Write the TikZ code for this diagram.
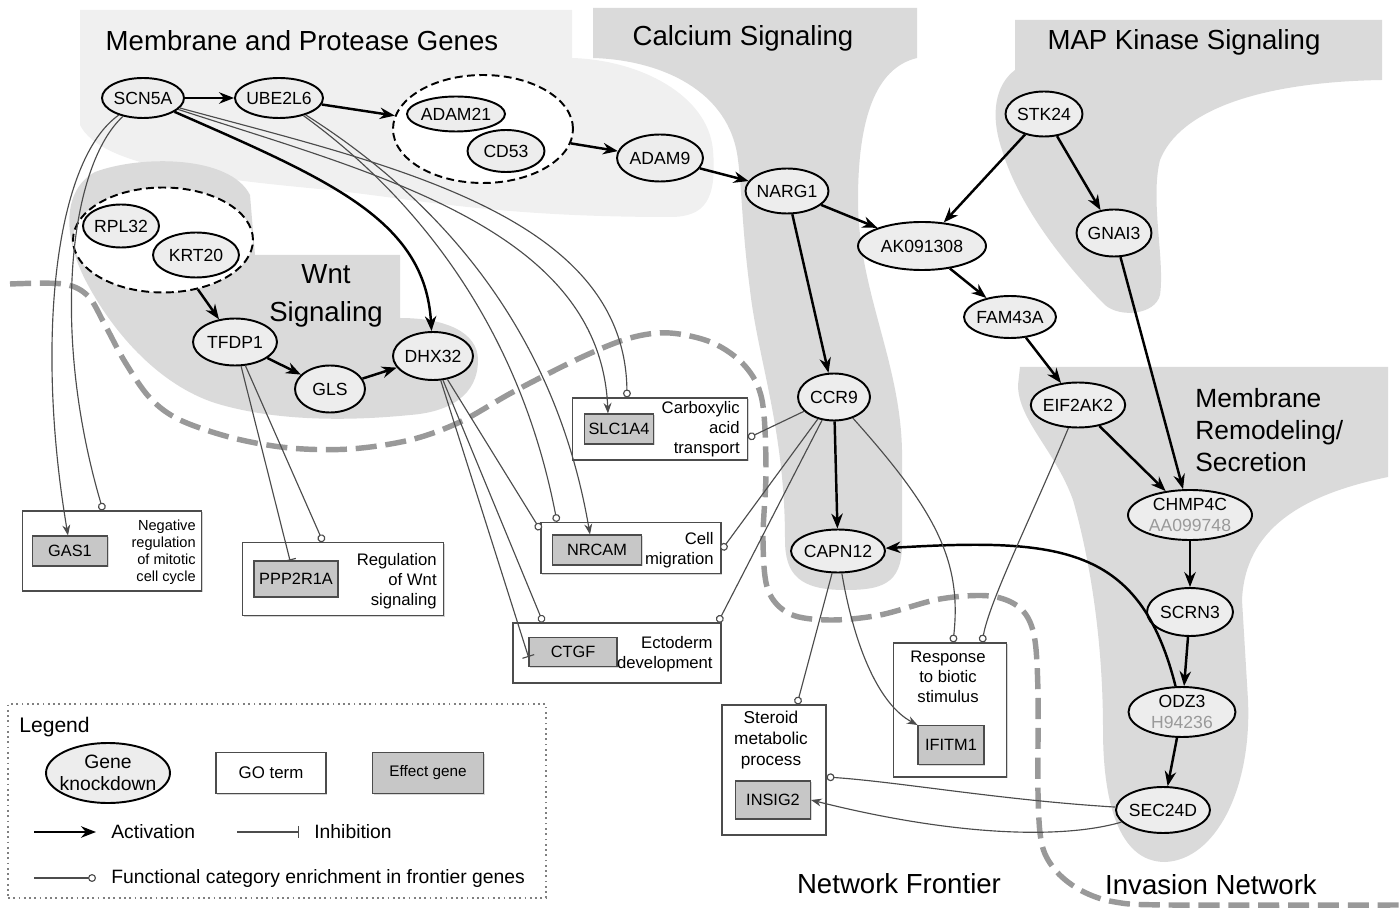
\documentclass[tikz,border=0pt]{standalone}
\usepackage{fontspec}
\setmainfont{Liberation Sans}
\usepackage{xcolor}
\usepackage{tikz}
\usetikzlibrary{arrows.meta,shapes.geometric,shadows}

\definecolor{lightreg}{gray}{0.94}
\definecolor{midreg}{gray}{0.855}
\definecolor{genefill}{gray}{0.93}
\definecolor{effectfill}{gray}{0.78}
\definecolor{frontline}{gray}{0.6}
\definecolor{relline}{gray}{0.3}
\definecolor{subid}{gray}{0.6}

\begin{document}
\begin{tikzpicture}[
  x=0.02cm, y=-0.02cm,
  >=Stealth,
  gene/.style={ellipse, draw, line width=1.1pt, fill=genefill, inner sep=-1pt,
               minimum width=1.7cm, minimum height=0.9cm, align=center,
               font=\fontsize{10}{12}\selectfont},
  cluster/.style={ellipse, draw, dash pattern=on 4.5pt off 2.5pt, line width=1.1pt, fill=white,
                  minimum width=3.6cm, minimum height=2.16cm},
  goterm/.style={rectangle, draw=black!70, line width=0.7pt, fill=white, inner sep=0pt,
                 drop shadow={shadow xshift=0.8pt, shadow yshift=-0.8pt, opacity=0.35}},
  gotext/.style={align=right, inner sep=0pt, font=\fontsize{9.5}{11.3}\selectfont},
  effect/.style={rectangle, draw=black!70, line width=0.6pt, fill=effectfill, inner sep=0pt,
                 minimum height=0.6cm, font=\fontsize{9.3}{11}\selectfont,
                 drop shadow={shadow xshift=0.6pt, shadow yshift=-0.6pt, opacity=0.3}},
  regionlabel/.style={inner sep=0pt, font=\fontsize{15.7}{18.5}\selectfont},
  act/.style={-{Stealth[length=8.5pt, width=6.5pt]}, line width=1.4pt},
  rel/.style={-{Stealth[length=6pt, width=4.5pt]}, line width=0.65pt, relline},
  inh/.style={-{Bar[width=7pt]}, line width=0.65pt, relline},
  enr/.style={-{Circle[length=4.5pt, fill=white]}, line width=0.65pt, relline},
  frontier/.style={line width=3.1pt, frontline, dash pattern=on 12pt off 5pt},
]
\useasboundingbox (0,0) rectangle (1399,908);

% Pathway regions (background)
\fill[lightreg] (80,10) -- (572,10) -- (572,58) .. controls (640,60) and (708,95) .. (713,150)
  .. controls (717,200) and (705,217) .. (670,217) .. controls (500,217) and (420,200) .. (330,190)
  .. controls (200,178) and (100,165) .. (80,125) -- cycle;
\fill[midreg] (593,8) -- (917,8) -- (917,58) .. controls (875,68) and (858,120) .. (858,200)
  .. controls (858,290) and (900,360) .. (902,450) -- (902,545) .. controls (902,585) and (880,590) .. (845,590)
  .. controls (800,590) and (785,575) .. (785,540) .. controls (785,430) and (758,360) .. (750,290)
  .. controls (742,230) and (742,190) .. (738,160) .. controls (730,90) and (660,60) .. (593,58) -- cycle;
\fill[midreg] (1015,20) -- (1382,20) -- (1382,80) .. controls (1260,82) and (1180,110) .. (1160,160)
  .. controls (1150,200) and (1165,260) .. (1160,295) .. controls (1155,315) and (1120,318) .. (1105,305)
  .. controls (1070,270) and (1020,210) .. (1002,150) .. controls (990,115) and (995,85) .. (1015,70) -- cycle;
\fill[midreg] (255,255) -- (400,255) -- (400,318) .. controls (445,318) and (478,332) .. (478,360)
  .. controls (478,395) and (450,412) .. (410,415) .. controls (340,422) and (270,420) .. (215,403)
  .. controls (160,385) and (115,335) .. (88,285) .. controls (62,238) and (62,190) .. (95,172)
  .. controls (140,155) and (230,155) .. (250,195) -- cycle;
\fill[midreg] (1020,367) -- (1388,367) -- (1388,477) .. controls (1300,495) and (1245,530) .. (1242,600)
  -- (1248,700) .. controls (1252,790) and (1215,860) .. (1165,862) .. controls (1118,862) and (1103,800) .. (1103,730)
  .. controls (1103,640) and (1090,560) .. (1073,500) .. controls (1055,450) and (1018,420) .. (1018,385) -- cycle;

% Region titles
\node[regionlabel] (tMem) at (302,41) {Membrane and Protease Genes};
\node[regionlabel] (tCal) at (743,38) {Calcium Signaling};
\node[regionlabel] (tMap) at (1184,42) {MAP Kinase Signaling};
\node[regionlabel, align=center, font=\fontsize{15.7}{22}\selectfont] (tWnt) at (326,296) {Wnt\\Signaling};
\node[regionlabel, align=left, anchor=west, font=\fontsize{15}{18.4}\selectfont] (tRem) at (1195,430)
  {Membrane\\Remodeling/\\Secretion};
\node[regionlabel] (tFront) at (899,884) {Network Frontier};

% Network frontier boundary
\draw[frontier] plot[smooth, tension=0.55] coordinates {
  (10,284) (63,284) (88,296) (105,325) (125,362) (150,398) (180,420) (233,438) (290,448)
  (350,449) (410,440) (460,422) (513,392) (580,358) (630,338) (670,333) (713,343) (745,366)
  (762,400) (766,470) (763,540) (768,590) (790,614) (830,620) (880,615) (940,599) (990,596)
  (1020,608) (1034,635) (1038,693) (1038,793) (1042,845) (1057,872) (1082,891) (1115,902)
  (1170,905) (1399,905)};
\node[regionlabel] (tInv) at (1211,885) {Invasion Network};

% Knockdown genes
\node[gene, minimum width=1.64cm, minimum height=0.8cm] (SCN5A) at (143,98) {SCN5A};
\node[gene, minimum width=1.76cm, minimum height=0.8cm] (UBE2L6) at (279,98) {UBE2L6};
\node[cluster] (clA) at (483,129) {};
\node[gene, minimum width=1.96cm, minimum height=0.7cm] (ADAM21) at (456,114) {ADAM21};
\node[gene, minimum width=1.54cm, minimum height=0.84cm] (CD53) at (506,151) {CD53};
\node[gene, minimum width=1.72cm, minimum height=0.94cm] (ADAM9) at (660,158) {ADAM9};
\node[gene, minimum width=1.66cm] (NARG1) at (787,191) {NARG1};
\node[gene, minimum width=2.56cm, minimum height=0.96cm] (AK091308) at (922,246) {AK091308};
\node[gene, minimum width=1.54cm] (STK24) at (1044,114) {STK24};
\node[gene, minimum width=1.5cm, minimum height=0.94cm] (GNAI3) at (1114,233) {GNAI3};
\node[gene, minimum width=1.84cm, minimum height=0.84cm] (FAM43A) at (1010,317) {FAM43A};
\node[gene, minimum width=1.86cm] (EIF2AK2) at (1078,405) {EIF2AK2};
\node[gene, minimum width=2.48cm, minimum height=1cm] (CHMP4C) at (1190,515) {CHMP4C\\\textcolor{subid}{AA099748}};
\node[gene, minimum width=1.72cm, minimum height=0.96cm] (SCRN3) at (1190,612) {SCRN3};
\node[gene, minimum width=2.14cm, minimum height=1cm] (ODZ3) at (1182,712) {ODZ3\\\textcolor{subid}{H94236}};
\node[gene, minimum width=1.88cm, minimum height=0.92cm] (SEC24D) at (1163,810) {SEC24D};
\node[gene, minimum width=1.44cm, minimum height=0.94cm] (CCR9) at (834,397) {CCR9};
\node[gene, minimum width=1.88cm, minimum height=0.86cm] (CAPN12) at (838,551) {CAPN12};
\node[gene, minimum width=1.6cm, minimum height=0.96cm] (DHX32) at (433,356) {DHX32};
\node[gene, minimum width=1.4cm, minimum height=0.94cm] (GLS) at (330,389) {GLS};
\node[gene, minimum width=1.68cm, minimum height=0.94cm] (TFDP1) at (235,342) {TFDP1};
\node[cluster, minimum height=2.1cm] (clB) at (163,240) {};
\node[gene, minimum width=1.52cm, minimum height=0.86cm] (RPL32) at (121,226) {RPL32};
\node[gene, minimum width=1.72cm] (KRT20) at (196,255) {KRT20};

% GO terms with their effect genes
\node[goterm, minimum width=3.58cm, minimum height=1.6cm] (negreg) at (112,551) {};
\node[effect, minimum width=1.5cm] (GAS1) at (70,551) {GAS1};
\node[gotext, anchor=east, font=\fontsize{8.3}{9.7}\selectfont] (negregtxt) at (196,552)
  {Negative\\regulation\\of mitotic\\cell cycle};

\node[goterm, minimum width=4.02cm, minimum height=1.46cm] (wntreg) at (343,579) {};
\node[effect, minimum width=1.68cm, minimum height=0.72cm] (PPP2R1A) at (296,579) {PPP2R1A};
\node[gotext, anchor=east] (wntregtxt) at (437,581) {Regulation\\of Wnt\\signaling};

\node[goterm, minimum width=3.5cm, minimum height=1.24cm] (carbox) at (660,429) {};
\node[effect, minimum width=1.38cm] (SLC1A4) at (619,429) {SLC1A4};
\node[gotext, anchor=east] (carboxtxt) at (740,429) {Carboxylic\\acid\\transport};

\node[goterm, minimum width=3.6cm, minimum height=1.02cm] (cellmig) at (631,548) {};
\node[effect, minimum width=1.78cm] (NRCAM) at (597,550) {NRCAM};
\node[gotext, anchor=east] (cellmigtxt) at (714,550) {Cell\\migration};

\node[goterm, minimum width=4.16cm, minimum height=1.2cm] (ectoderm) at (617,653) {};
\node[effect, minimum width=1.76cm, minimum height=0.58cm] (CTGF) at (573,652) {CTGF};
\node[gotext, anchor=east] (ectodermtxt) at (713,654) {Ectoderm\\development};

\node[goterm, minimum width=2.08cm, minimum height=2.6cm] (steroid) at (774,770) {};
\node[gotext, align=center, font=\fontsize{9.8}{12.2}\selectfont] (steroidtxt) at (771,740)
  {Steroid\\metabolic\\process};
\node[effect, minimum width=1.5cm, minimum height=0.76cm] (INSIG2) at (773,800) {INSIG2};

\node[goterm, minimum width=2.26cm, minimum height=2.68cm] (response) at (950,710) {};
\node[gotext, align=center] (responsetxt) at (948,677) {Response\\to biotic\\stimulus};
\node[effect, minimum width=1.32cm, minimum height=0.78cm] (IFITM1) at (951,745) {IFITM1};

% Activation between knockdown genes
\foreach \a/\b in {SCN5A/UBE2L6, UBE2L6/clA, clA/ADAM9, ADAM9/NARG1, NARG1/AK091308, NARG1/CCR9,
    CCR9/CAPN12, STK24/AK091308, STK24/GNAI3, AK091308/FAM43A, FAM43A/EIF2AK2, EIF2AK2/CHMP4C,
    GNAI3/CHMP4C, CHMP4C/SCRN3, SCRN3/ODZ3, ODZ3/SEC24D, clB/TFDP1, TFDP1/GLS, GLS/DHX32}
  {\draw[act] (\a) -- (\b);}
\draw[act] (SCN5A) .. controls (330,180) and (425,220) .. (DHX32);
\draw[act] (ODZ3) .. controls (1140,545) and (1060,538) .. (CAPN12);

% Effect genes and enriched GO terms
\draw[rel] (SCN5A) .. controls (55,160) and (35,340) .. (68,0 |- GAS1.north);
\draw[enr] (SCN5A) .. controls (70,165) and (50,330) .. (103,0 |- negreg.north);
\draw[rel] (SCN5A) .. controls (380,175) and (600,230) .. (608,0 |- SLC1A4.north);
\draw[enr] (SCN5A) .. controls (390,165) and (625,215) .. (627,0 |- carbox.north);
\draw[enr] (UBE2L6) .. controls (420,200) and (520,330) .. (557,0 |- cellmig.north);
\draw[rel] (UBE2L6) .. controls (440,200) and (555,330) .. (590,0 |- NRCAM.north);
\draw[enr] (DHX32) -- (cellmig.west |- 0,530);
\draw[enr] (DHX32) -- (543,0 |- ectoderm.north);
\draw[inh] (DHX32) -- (CTGF.west |- 0,657);
\draw[inh] (TFDP1) -- (290,0 |- PPP2R1A.north);
\draw[enr] (TFDP1) -- (323,0 |- wntreg.north);
\draw[enr] (CCR9) -- (carbox.east |- 0,438);
\draw[enr] (CCR9) -- (cellmig.east |- 0,550);
\draw[enr] (CCR9) -- (718,0 |- ectoderm.north);
\draw[enr] (CCR9) .. controls (935,510) and (962,560) .. (953,0 |- response.north);
\draw[enr] (EIF2AK2) .. controls (1030,520) and (990,600) .. (982,0 |- response.north);
\draw[enr] (CAPN12) -- (797,0 |- steroid.north);
\draw[rel] (CAPN12) .. controls (855,650) and (880,705) .. (IFITM1.north west);
\draw[enr] (SEC24D) .. controls (1000,800) and (900,782) .. (steroid.east |- 0,777);
\draw[rel] (SEC24D) .. controls (1060,840) and (950,835) .. (INSIG2.east);

% Legend
\node[draw=gray, line width=0.8pt, dash pattern=on 1pt off 2pt, minimum width=10.76cm,
      minimum height=3.88cm] (legend) at (277,801) {};
\node[anchor=west, inner sep=0pt, font=\fontsize{12}{14}\selectfont] (legtitle) at (19,727) {Legend};
\node[gene, minimum width=2.48cm, minimum height=1.2cm,
      label={[align=center, font=\fontsize{11}{12.5}\selectfont]center:Gene\\knockdown}] (legGene) at (108,773) {};
\node[goterm, minimum width=2.2cm, minimum height=0.82cm, font=\fontsize{9.6}{11}\selectfont] (legGO) at (271,773) {GO term};
\node[effect, minimum width=2.22cm, minimum height=0.82cm, font=\fontsize{8.7}{10}\selectfont] (legEff) at (428,773) {Effect gene};
\coordinate (actA) at (34,832);  \coordinate (actB) at (96,832);
\coordinate (inhA) at (237,832); \coordinate (inhB) at (299,832);
\coordinate (enrA) at (34,878);  \coordinate (enrB) at (96,878);
\draw[act] (actA) -- (actB);
\draw[inh] (inhA) -- (inhB);
\draw[enr] (enrA) -- (enrB);
\node[anchor=west, inner sep=0pt, font=\fontsize{11}{13}\selectfont] (legAct) at (111,832) {Activation};
\node[anchor=west, inner sep=0pt, font=\fontsize{11}{13}\selectfont] (legInh) at (314,832) {Inhibition};
\node[anchor=west, inner sep=0pt, font=\fontsize{11}{13}\selectfont] (legEnr) at (111,878)
  {Functional category enrichment in frontier genes};

\end{tikzpicture}
\end{document}
